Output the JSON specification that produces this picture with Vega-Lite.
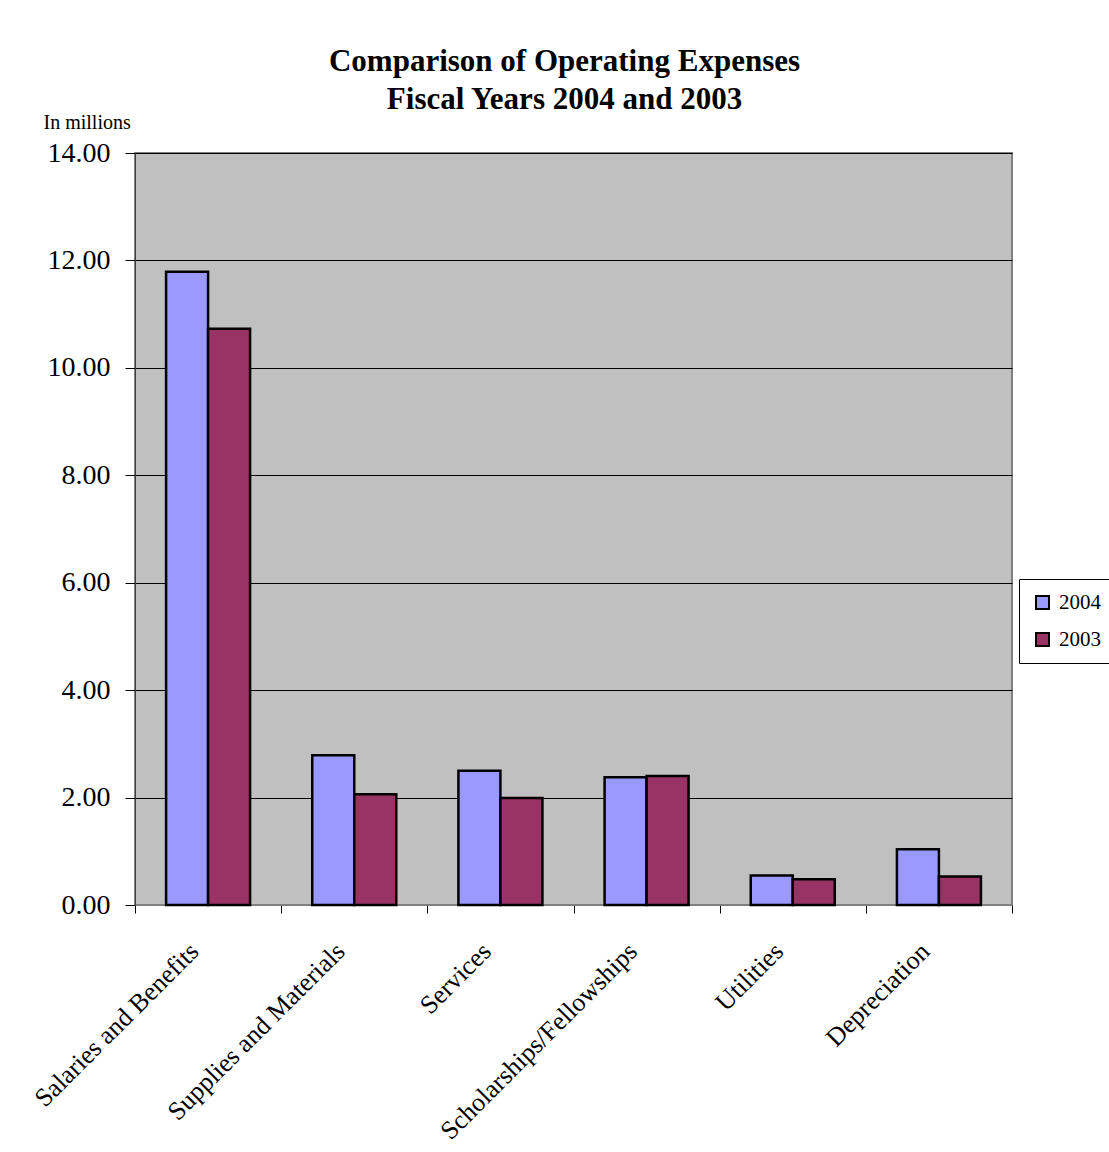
{
  "$schema": "https://vega.github.io/schema/vega-lite/v6.json",
  "width": 877,
  "height": 752,
  "autosize": {"type": "none"},
  "padding": {"left": 135, "top": 153, "right": 97, "bottom": 247},
  "background": "white",
  "title": {
    "text": ["Comparison of Operating Expenses", "Fiscal Years 2004 and 2003"],
    "font": "Liberation Serif",
    "fontSize": 31,
    "fontWeight": "bold",
    "lineHeight": 38,
    "color": "black",
    "anchor": "middle",
    "dx": -9,
    "offset": -4
  },
  "data": {
    "values": [
      {"category": "Salaries and Benefits", "year": "2004", "value": 11.79},
      {"category": "Salaries and Benefits", "year": "2003", "value": 10.73},
      {"category": "Supplies and Materials", "year": "2004", "value": 2.79},
      {"category": "Supplies and Materials", "year": "2003", "value": 2.06},
      {"category": "Services", "year": "2004", "value": 2.5},
      {"category": "Services", "year": "2003", "value": 1.99},
      {"category": "Scholarships/Fellowships", "year": "2004", "value": 2.38},
      {"category": "Scholarships/Fellowships", "year": "2003", "value": 2.4},
      {"category": "Utilities", "year": "2004", "value": 0.55},
      {"category": "Utilities", "year": "2003", "value": 0.48},
      {"category": "Depreciation", "year": "2004", "value": 1.04},
      {"category": "Depreciation", "year": "2003", "value": 0.53}
    ]
  },
  "mark": {"type": "bar", "stroke": "black", "strokeWidth": 2.5},
  "encoding": {
    "x": {
      "field": "category",
      "type": "nominal",
      "sort": ["Salaries and Benefits", "Supplies and Materials", "Services", "Scholarships/Fellowships", "Utilities", "Depreciation"],
      "scale": {"paddingInner": 0, "paddingOuter": 0},
      "axis": {
        "title": null,
        "labelAngle": -45,
        "labelAlign": "right",
        "labelBaseline": "middle",
        "labelFont": "Liberation Serif",
        "labelFontSize": 26,
        "labelColor": "black",
        "labelLimit": 0,
        "labelPadding": 34,
        "labelOffset": -14,
        "tickBand": "extent",
        "tickSize": 8,
        "tickColor": "black",
        "domainColor": "#808080",
        "grid": false
      }
    },
    "xOffset": {
      "field": "year",
      "type": "nominal",
      "sort": ["2004", "2003"],
      "scale": {"paddingInner": 0, "paddingOuter": 0.74}
    },
    "y": {
      "field": "value",
      "type": "quantitative",
      "scale": {"domain": [0, 14]},
      "axis": {
        "title": "In millions",
        "titleAngle": 0,
        "titleX": -92,
        "titleY": -25,
        "titleAlign": "left",
        "titleBaseline": "alphabetic",
        "titleFont": "Liberation Serif",
        "titleFontWeight": "normal",
        "titleFontSize": 20,
        "titleColor": "black",
        "values": [0, 2, 4, 6, 8, 10, 12, 14],
        "format": ".2f",
        "labelFont": "Liberation Serif",
        "labelFontSize": 28,
        "labelColor": "black",
        "labelPadding": 15,
        "tickSize": 10,
        "tickColor": "black",
        "domainColor": "#404040",
        "grid": true,
        "gridColor": "black",
        "gridWidth": 1
      }
    },
    "color": {
      "field": "year",
      "type": "nominal",
      "sort": ["2004", "2003"],
      "scale": {"domain": ["2004", "2003"], "range": ["#9999FF", "#993366"]},
      "legend": {
        "title": null,
        "orient": "none",
        "legendX": 884,
        "legendY": 426,
        "fillColor": "white",
        "strokeColor": "black",
        "padding": 13,
        "symbolType": "square",
        "symbolSize": 169,
        "symbolStrokeColor": "black",
        "symbolStrokeWidth": 2,
        "symbolOpacity": 1,
        "labelFont": "Liberation Serif",
        "labelFontSize": 21,
        "labelColor": "black",
        "labelOffset": 6,
        "rowPadding": 15
      }
    }
  },
  "config": {
    "view": {"fill": "#C0C0C0", "stroke": "#808080", "strokeWidth": 2}
  }
}
